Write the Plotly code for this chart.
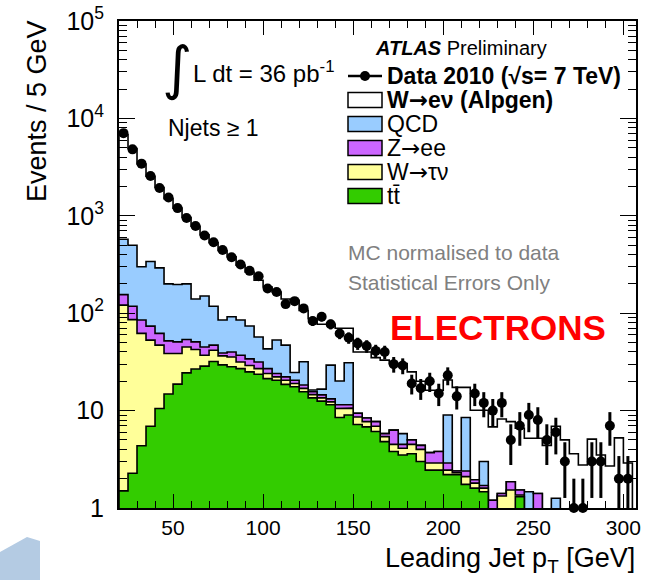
import numpy as np
import plotly.graph_objects as go

# ---------------- data ----------------
bin_width = 5.0
x_low, x_high = 20.0, 305.0
bin_centers = np.arange(x_low + bin_width / 2, x_high, bin_width)  # 22.5 ... 302.5 (57 bins)

data_2010 = [7060, 4810, 3430, 2560, 1930, 1540, 1200, 949, 786, 627, 535, 446, 375, 316,
             272, 240, 179, 165, 124, 133, 112, 83, 92, 77, 62, 56, 49, 46, 41, 40, 30, 29,
             19, 17, 20, 15, 23, 14, None, 15, 12, 10, 12, 5, 7, 9, 8, 5, 6, 3, 1, 1, 3, 3,
             7, 2, 2]

# cumulative stack heights (top of each stacked component)
stack_wenu = [6800, 4900, 3400, 2550, 1950, 1500, 1200, 960, 780, 640, 530, 440, 380, 311,
              265, 218, 186, 165, 140, 136, 107, 88, 77, 77, 70, 70, 40, 40, 35, 33, 30.5,
              30.5, 25, 20, 16.2, 16.2, 20.6, 17.3, 17.3, 10.1, 10.1, 6.8, 8.2, 7.7, 6.6,
              5.2, 5.2, 4.4, 6.9, 5.0, 3.6, 2.76, 5.1, 3.5, 2.7, 5.25, 2.9]
stack_qcd = [575, 498, 300, 340, 292, 200, 197, 200, 140, 150, 118, 85, 92, 85, 74, 57, 43,
             53, 47, 24.6, 31.7, 16.3, 16.6, 29.3, 20.1, 31, 9.4, 8.4, 7.7, 5.8, 6.3, 5.8,
             5.0, 4.4, 3.7, 3.8, 9.0, 2.4, 8.5, 1.95, 3.0, 1.2, 1.41, 1.86, 1.53, 1.47, 1.41,
             0.5, 1.26, 0.5, 0.5, 0.5, 0.5, 0.5, 0.5, 0.5, 0.5]
stack_zee = [155, 118, 85, 73.6, 62, 52, 50.8, 53.7, 50.8, 45, 47, 39, 40, 37, 34, 31.5, 27,
             24, 22.2, 20.5, 18.3, 15.6, 14.5, 13.2, 11.5, 11.5, 9.4, 8.4, 7.7, 5.8, 6.3, 4.5,
             5.0, 4.4, 3.7, 3.8, 2.9, 2.4, 2.4, 1.95, 1.7, 1.2, 1.41, 1.86, 1.53, 0.5, 1.41,
             0.4, 0.4, 0.4, 0.4, 0.4, 0.4, 0.4, 0.4, 0.4, 0.4]
stack_wtaunu = [121, 86, 62, 52.9, 47, 38.6, 38.6, 45, 42.4, 37, 41.7, 36.5, 35.5, 31.5, 29,
                27, 24, 22.2, 20.5, 19.0, 16.9, 14.6, 13.5, 12.3, 10.5, 10.6, 8.6, 7.7, 6.9,
                5.4, 4.5, 4.1, 4.5, 4.0, 2.9, 2.9, 2.45, 2.3, 2.1, 1.8, 1.6, 0.95, 1.33, 1.53,
                1.36, 0.4, 0.4, 0.3, 0.3, 0.3, 0.3, 0.3, 0.3, 0.3, 0.3, 0.3, 0.3]
stack_ttbar = [1.5, 2.27, 4.35, 6.9, 10.5, 14.8, 18.7, 24.4, 26.7, 28.6, 31.9, 29.5, 28.2, 27,
               25, 23.6, 21.3, 20.5, 18.6, 17.6, 15.6, 13.5, 12.5, 11.5, 8.5, 9.0, 7.2, 6.8,
               6.1, 4.8, 3.8, 3.5, 3.6, 3.0, 2.45, 2.45, 2.2, 2.2, 1.75, 1.6, 1.47, 0.5, 0.5,
               0.5, 1.31, 0.3, 0.3, 0.2, 0.2, 0.2, 0.2, 0.2, 0.2, 0.2, 0.2, 0.2, 0.2]

x_tick_values = [50, 100, 150, 200, 250, 300]
y_tick_values = [1, 10, 100, 1000, 10000, 100000]
y_tick_text = ["1", "10", "10<sup>2</sup>", "10<sup>3</sup>", "10<sup>4</sup>", "10<sup>5</sup>"]

# ---------------- styling ----------------
COL_WENU = "#ffffff"
COL_QCD = "#99ccff"
COL_ZEE = "#cc66ff"
COL_WTAU = "#ffff99"
COL_TT = "#33cc00"
FONT = "Liberation Sans, Arial, sans-serif"
ARROW = "<span style='font-family:DejaVu Sans'>→</span>"

W, H = 650, 580
ML, MR, MT, MB = 119, 14, 21, 72
PW, PH = W - ML - MR, H - MT - MB


def px(x):
    return (x - ML) / PW


def py(y):
    return (H - MB - y) / PH


edges = np.append(bin_centers - bin_width / 2, bin_centers[-1] + bin_width / 2)
FLOOR = 1e-3


def step_polygon(vals):
    xs, ys = [edges[0]], [FLOOR]
    for i, v in enumerate(vals):
        xs += [edges[i], edges[i + 1]]
        ys += [v, v]
    xs.append(edges[-1])
    ys.append(FLOOR)
    return xs, ys


fig = go.Figure()
for vals, col in [(stack_wenu, COL_WENU), (stack_qcd, COL_QCD), (stack_zee, COL_ZEE),
                  (stack_wtaunu, COL_WTAU), (stack_ttbar, COL_TT)]:
    xs, ys = step_polygon(vals)
    fig.add_trace(go.Scatter(x=xs, y=ys, mode="lines", fill="toself", fillcolor=col,
                             line=dict(color="black", width=1.6), hoverinfo="skip",
                             showlegend=False))

err_up = [np.sqrt(n) if n else None for n in data_2010]
err_dn = [min(np.sqrt(n), n * 0.995) if n else None for n in data_2010]
fig.add_trace(go.Scatter(
    x=bin_centers, y=data_2010, mode="markers",
    marker=dict(color="black", size=10),
    error_y=dict(type="data", array=err_up, arrayminus=err_dn, color="black",
                 thickness=3, width=0),
    cliponaxis=False, showlegend=False))

minor_y = [m * 10 ** k for k in range(0, 5) for m in range(2, 10)]

fig.update_layout(
    width=W, height=H, margin=dict(l=ML, r=MR, t=MT, b=MB, autoexpand=False),
    paper_bgcolor="white", plot_bgcolor="white",
    font=dict(family=FONT, color="black"),
    xaxis=dict(range=[x_low, 307], showgrid=False, zeroline=False, automargin=False,
               showline=True, linecolor="black", linewidth=2, mirror="ticks",
               ticks="inside", ticklen=14, tickwidth=1.3, tickcolor="black",
               tickvals=x_tick_values, tickfont=dict(size=21, family=FONT),
               ticklabeloverflow="allow", ticklabelstandoff=0,
               minor=dict(ticks="inside", ticklen=7, tickwidth=1.3, tickcolor="black",
                          dtick=10, tick0=0)),
    yaxis=dict(type="log", range=[0, 5], showgrid=False, zeroline=False, automargin=False,
               showline=True, linecolor="black", linewidth=2, mirror="ticks",
               ticks="inside", ticklen=16, tickwidth=1.3, tickcolor="black",
               tickvals=y_tick_values, ticktext=y_tick_text,
               tickfont=dict(size=25, family=FONT), ticklabelstandoff=8,
               ticklabeloverflow="allow",
               minor=dict(ticks="inside", ticklen=8, tickwidth=1.3, tickcolor="black",
                          tickvals=minor_y)),
)

ann = []
shapes = []


def text(x, y, s, size, anchor="left", color="black", angle=0, family=FONT, yanchor="middle"):
    ann.append(dict(x=px(x), y=py(y), xref="paper", yref="paper", text=s,
                    showarrow=False, xanchor=anchor, yanchor=yanchor, textangle=angle,
                    font=dict(size=size, color=color, family=family)))


# axis titles
text(37, 18, "Events / 5 GeV", 27, anchor="center", angle=-90, yanchor="top")
text(637, 560, "Leading Jet p<sub>T</sub> [GeV]", 27, anchor="right")

# luminosity & jets
text(177, 68, "∫", 58, anchor="center", family="DejaVu Sans")
text(191, 72, "L dt = 36 pb<sup>-1</sup>", 24)
text(166, 128, "Njets ≥ 1", 23)

# ATLAS label
text(461, 48, "<b><i>ATLAS</i></b> Preliminary", 20, anchor="center")

# legend
lx0, lx1 = 348, 382
shapes.append(dict(type="line", xref="paper", yref="paper", x0=px(lx0), x1=px(lx1),
                   y0=py(76), y1=py(76), line=dict(color="black", width=2.5)))
shapes.append(dict(type="circle", xref="paper", yref="paper", x0=px(360), x1=px(370),
                   y0=py(71), y1=py(81), fillcolor="black", line=dict(color="black", width=0)))
text(385, 76, "<b>Data 2010 (√s= 7 TeV)</b>", 23)
legend_items = [(f"<b>W{ARROW}eν (Alpgen)</b>", COL_WENU), ("QCD", COL_QCD),
                (f"Z{ARROW}ee", COL_ZEE), (f"W{ARROW}τν", COL_WTAU), ("tt\u0304", COL_TT)]
for i, (lab, col) in enumerate(legend_items):
    yc = 100 + 24 * i
    shapes.append(dict(type="rect", xref="paper", yref="paper", x0=px(lx0), x1=px(lx1),
                       y0=py(yc - 7.5), y1=py(yc + 7.5), fillcolor=col,
                       line=dict(color="black", width=1.5)))
    text(385, yc, lab, 23)

# notes
text(346, 253, "MC normalised to data", 21, color="#808080")
text(346, 282, "Statistical Errors Only", 21, color="#808080")
text(498, 327, "<b>ELECTRONS</b>", 35, anchor="center", color="#ff0000")

# decorative corner logo fragment
shapes.append(dict(type="path", xref="paper", yref="paper",
                   path=f"M {px(0)},{py(552)} L {px(27)},{py(537)} L {px(40)},{py(541)} "
                        f"L {px(40)},{py(580)} L {px(0)},{py(580)} Z",
                   fillcolor="#b4cbe3", line=dict(width=0), layer="below"))

fig.update_layout(annotations=ann, shapes=shapes)
fig.write_html("out.html", config={"displayModeBar": False},
               post_script="document.body.style.margin='0';document.body.style.padding='0';")
